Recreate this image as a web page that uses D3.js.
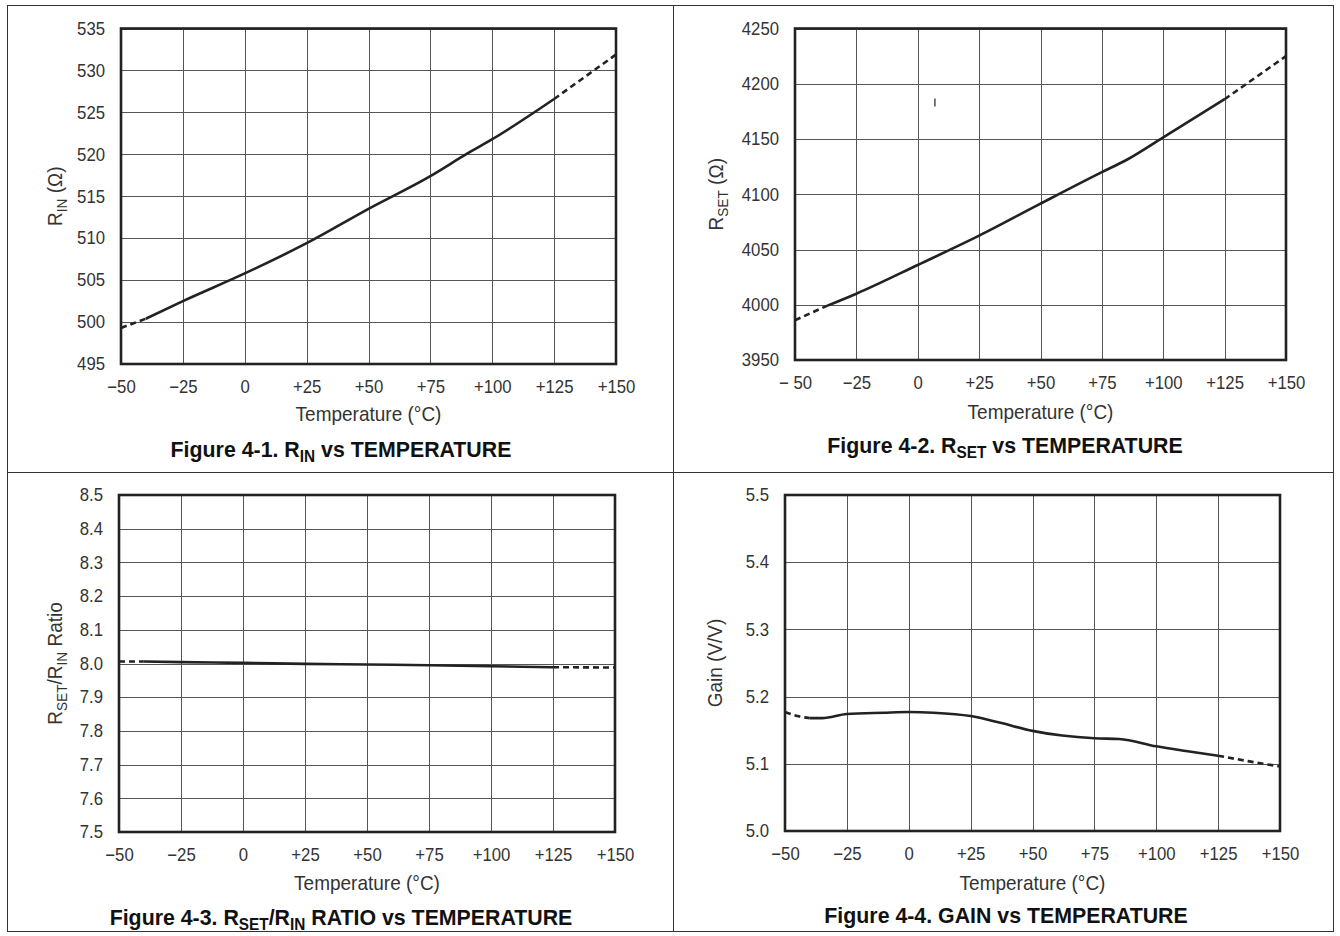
<!DOCTYPE html>
<html>
<head>
<meta charset="utf-8">
<script src="https://cdn.jsdelivr.net/npm/d3@7/dist/d3.min.js"></script>
<style>
  html, body { margin: 0; padding: 0; background: #fff; }
  svg { display: block; }
  .tick text { font-family: "Liberation Sans", Arial, sans-serif; font-size: 18px; fill: #333; }
  .lbl { font-family: "Liberation Sans", Arial, sans-serif; font-size: 20px; fill: #333; }
  .fig { font-family: "Liberation Sans", Arial, sans-serif; font-size: 22px; font-weight: bold; fill: #111; }
</style>
</head>
<body>
<svg id="chart" width="1340" height="936"></svg>
<script>
// Shared temperature axis
const tempTicks = [-50, -25, 0, 25, 50, 75, 100, 125, 150];
const tempTickLabels = ["\u221250", "\u221225", "0", "+25", "+50", "+75", "+100", "+125", "+150"];
const rsetTempTickLabels = ["\u2212 50", "\u221225", "0", "+25", "+50", "+75", "+100", "+125", "+150"];

// Figure 4-1: R_IN (ohm) vs temperature
const rinTemps  = [-50, -40, -25, 0, 25, 50, 75, 90, 100, 125, 150];
const rinValues = [499.3, 500.4, 502.5, 505.8, 509.4, 513.5, 517.4, 520.1, 521.8, 526.6, 531.9];
const rinTicks  = [495, 500, 505, 510, 515, 520, 525, 530, 535];

// Figure 4-2: R_SET (ohm) vs temperature
const rsetTemps  = [-50, -37, -25, 0, 25, 50, 75, 85, 100, 125, 150];
const rsetValues = [3986, 3999, 4010, 4036, 4062.5, 4091.5, 4120, 4131, 4151.5, 4186, 4225];
const rsetTicks  = [3950, 4000, 4050, 4100, 4150, 4200, 4250];
const rsetStray  = [7, 4183];   // small stray tick inside the plot

// Figure 4-3: R_SET / R_IN ratio vs temperature
const ratioTemps  = [-50, -40, -25, 0, 25, 50, 75, 100, 125, 150];
const ratioValues = [8.006, 8.006, 8.004, 8.002, 7.999, 7.997, 7.995, 7.992, 7.989, 7.988];
const ratioTicks  = [7.5, 7.6, 7.7, 7.8, 7.9, 8.0, 8.1, 8.2, 8.3, 8.4, 8.5];

// Figure 4-4: gain (V/V) vs temperature
const gainTemps  = [-50, -45, -40, -35, -25, -10, 0, 10, 25, 37, 50, 62, 75, 85, 100, 112, 125, 137, 150];
const gainValues = [5.177, 5.171, 5.168, 5.168, 5.174, 5.176, 5.177, 5.176, 5.171, 5.161, 5.149, 5.142, 5.138, 5.137, 5.126, 5.119, 5.112, 5.104, 5.096];
const gainTicks  = [5.0, 5.1, 5.2, 5.3, 5.4, 5.5];

const svg = d3.select("#chart");
const K_TICK = 0.93;    // horizontal squeeze for tick labels
const K_LABEL = 0.95;   // horizontal squeeze for axis titles
const K_FIG = 0.97;

// Page frame: 2x2 table of figure cells
const frame = svg.append("g").attr("stroke", "#333").attr("stroke-width", 1).attr("fill", "none")
  .attr("shape-rendering", "crispEdges");
frame.append("rect").attr("x", 7.5).attr("y", 5.5).attr("width", 1326).attr("height", 926);
frame.append("line").attr("x1", 673.5).attr("x2", 673.5).attr("y1", 5.5).attr("y2", 931.5);
frame.append("line").attr("x1", 7.5).attr("x2", 1333.5).attr("y1", 472.5).attr("y2", 472.5);

// Append a text element made of plain and subscript runs
function richText(sel, parts) {
  let down = false;
  parts.forEach(p => {
    const ts = sel.append("tspan").text(p.t);
    if (p.sub) {
      ts.attr("font-size", "0.72em").attr("dy", 4.5);
      down = true;
    } else if (down) {
      ts.attr("dy", -4.5);
      down = false;
    }
  });
  return sel;
}

// Squeeze axis tick text horizontally while keeping its anchor point
function condenseTicks(sel, k) {
  sel.each(function () {
    const t = d3.select(this);
    const x = +t.attr("x") || 0;
    t.attr("x", x / k).attr("transform", `scale(${k},1)`);
  });
}

const panels = [
  { box: { x0: 121, x1: 616, y0: 28.5, y1: 364 }, temps: rinTemps, values: rinValues, yTicks: rinTicks,
    xLabels: tempTickLabels, yFmt: d3.format("d"), solid: [-40, 125],
    yTitle: [{ t: "R" }, { t: "IN", sub: true }, { t: " (\u03a9)" }],
    fig: [{ t: "Figure 4-1. R" }, { t: "IN", sub: true }, { t: " vs TEMPERATURE" }],
    titleY: 57, figX: 341, figY: 457, yTitleX: 62 },
  { box: { x0: 795, x1: 1286, y0: 28.5, y1: 360 }, temps: rsetTemps, values: rsetValues, yTicks: rsetTicks,
    xLabels: rsetTempTickLabels, yFmt: d3.format("d"), solid: [-37, 125], stray: rsetStray,
    yTitle: [{ t: "R" }, { t: "SET", sub: true }, { t: "  (\u03a9)" }],
    fig: [{ t: "Figure 4-2. R" }, { t: "SET", sub: true }, { t: " vs TEMPERATURE" }],
    titleY: 59, figX: 1005, figY: 453, yTitleX: 723 },
  { box: { x0: 119, x1: 615, y0: 495, y1: 832 }, temps: ratioTemps, values: ratioValues, yTicks: ratioTicks,
    xLabels: tempTickLabels, yFmt: d3.format(".1f"), solid: [-40, 125],
    yTitle: [{ t: "R" }, { t: "SET", sub: true }, { t: "/R" }, { t: "IN", sub: true }, { t: " Ratio" }],
    fig: [{ t: "Figure 4-3. R" }, { t: "SET", sub: true }, { t: "/R" }, { t: "IN", sub: true }, { t: " RATIO vs TEMPERATURE" }],
    titleY: 58, figX: 341, figY: 925, yTitleX: 62 },
  { box: { x0: 785, x1: 1280, y0: 495, y1: 831 }, temps: gainTemps, values: gainValues, yTicks: gainTicks,
    xLabels: tempTickLabels, yFmt: d3.format(".1f"), solid: [-40, 125],
    yTitle: [{ t: "Gain (V/V)" }],
    fig: [{ t: "Figure 4-4. GAIN vs TEMPERATURE" }],
    titleY: 59, figX: 1006, figY: 923, yTitleX: 722 }
];

panels.forEach(p => {
  const b = p.box;
  const w = b.x1 - b.x0, h = b.y1 - b.y0;
  const x = d3.scaleLinear().domain([-50, 150]).range([b.x0, b.x1]);
  const y = d3.scaleLinear().domain(d3.extent(p.yTicks)).range([b.y1, b.y0]);
  const g = svg.append("g");

  g.append("rect").attr("x", b.x0).attr("y", b.y0).attr("width", w).attr("height", h).attr("fill", "#fff");

  // Grid + tick labels
  const xAxis = d3.axisBottom(x).tickValues(tempTicks)
    .tickFormat((d, i) => p.xLabels[i])
    .tickSizeInner(-h).tickSizeOuter(0).tickPadding(16);
  const gx = g.append("g").attr("transform", `translate(0,${b.y1})`).call(xAxis);
  const yAxis = d3.axisLeft(y).tickValues(p.yTicks).tickFormat(p.yFmt)
    .tickSizeInner(-w).tickSizeOuter(0).tickPadding(16);
  const gy = g.append("g").attr("transform", `translate(${b.x0},0)`).call(yAxis);
  [gx, gy].forEach(a => {
    a.attr("font-size", null).attr("font-family", null);
    a.select(".domain").remove();
    a.selectAll(".tick line").attr("stroke", "#555").attr("stroke-width", 1).attr("shape-rendering", "crispEdges");
    condenseTicks(a.selectAll(".tick text"), K_TICK);
  });

  // Curve: solid over the characterized range, dashed outside it
  const pts = p.temps.map((t, i) => [t, p.values[i]]);
  const line = d3.line().x(d => x(d[0])).y(d => y(d[1])).curve(d3.curveMonotoneX);
  const lo = pts.filter(d => d[0] <= p.solid[0]);
  const mid = pts.filter(d => d[0] >= p.solid[0] && d[0] <= p.solid[1]);
  const hi = pts.filter(d => d[0] >= p.solid[1]);
  const curve = g.append("g").attr("fill", "none").attr("stroke", "#222").attr("stroke-width", 2.6)
    .attr("stroke-linejoin", "round");
  curve.append("path").attr("d", line(lo)).attr("stroke-dasharray", "6,4");
  curve.append("path").attr("d", line(mid));
  curve.append("path").attr("d", line(hi)).attr("stroke-dasharray", "6,4");

  if (p.stray) {
    g.append("line").attr("x1", x(p.stray[0])).attr("x2", x(p.stray[0]))
      .attr("y1", y(p.stray[1]) - 4).attr("y2", y(p.stray[1]) + 4)
      .attr("stroke", "#333").attr("stroke-width", 1.3);
  }

  // Plot border
  g.append("rect").attr("x", b.x0).attr("y", b.y0).attr("width", w).attr("height", h)
    .attr("fill", "none").attr("stroke", "#222").attr("stroke-width", 2.6);

  // Axis titles
  g.append("text").attr("class", "lbl").attr("text-anchor", "middle")
    .attr("transform", `translate(${(b.x0 + b.x1) / 2},${b.y1 + p.titleY}) scale(${K_LABEL},1)`)
    .text("Temperature (\u00b0C)");
  const yt = g.append("text").attr("class", "lbl").attr("text-anchor", "middle")
    .attr("transform", `translate(${p.yTitleX},${(b.y0 + b.y1) / 2}) rotate(-90) scale(${K_LABEL},1)`);
  richText(yt, p.yTitle);

  // Figure caption
  const ft = g.append("text").attr("class", "fig").attr("text-anchor", "middle")
    .attr("transform", `translate(${p.figX},${p.figY}) scale(${K_FIG},1)`);
  richText(ft, p.fig);
});
</script>
</body>
</html>
